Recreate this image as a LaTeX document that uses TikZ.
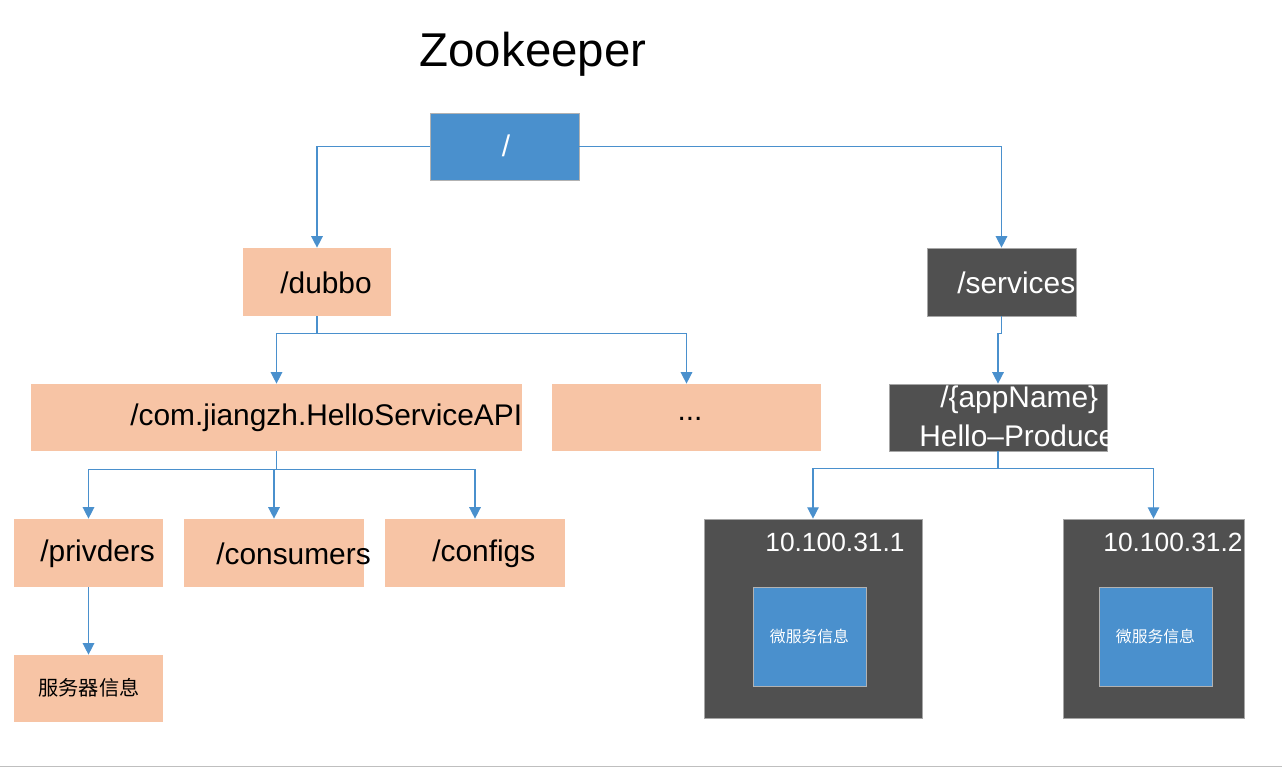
\documentclass[tikz,border=0pt]{standalone}
\usepackage{fontspec}
\setmainfont{Liberation Sans}
\newfontfamily\cjk{Noto Sans CJK SC}
\usepackage{xcolor}
\usetikzlibrary{positioning,arrows.meta}
\definecolor{zkblue}{RGB}{74,144,205}
\definecolor{zkpeach}{RGB}{247,196,165}
\definecolor{zkgray}{RGB}{80,80,80}

\begin{document}
\begin{tikzpicture}[x=0.02cm, y=-0.02cm,
  peach/.style={fill=zkpeach, inner sep=0pt},
  dark/.style={fill=zkgray, draw=gray!70, line width=0.4pt, inner sep=0pt},
  bluebox/.style={fill=zkblue, draw=gray!60, line width=0.4pt, inner sep=0pt},
  txt/.style={inner sep=0pt, font=\fontsize{17}{20}\selectfont},
  iptxt/.style={inner sep=0pt, anchor=west, text=white, font=\fontsize{15}{18}\selectfont},
  link/.style={draw=zkblue, line width=0.8pt, -{Triangle[width=6.5pt,length=6.5pt]}}]
  \useasboundingbox (0,0) rectangle (1282,768);

  % Title
  \node[inner sep=0pt, font=\fontsize{27}{32}\selectfont] (title) at (533,54) {Zookeeper};

  % Root and first level
  \node[bluebox, minimum width=2.98cm, minimum height=1.34cm] (root) at (504.5,146.5) {};
  \node[txt, text=white] (roott) at (506,146) {/};
  \node[peach, minimum width=2.96cm, minimum height=1.36cm] (dubbo) at (317,282) {};
  \node[txt, anchor=west] (dubbot) at (280,283) {/dubbo};
  \node[dark, minimum width=2.98cm, minimum height=1.36cm] (services) at (1001.5,282) {};
  \begin{scope}
    \clip (services.south west) rectangle (services.north east);
    \node[txt, anchor=west, text=white] (servicest) at (957,283) {/services};
  \end{scope}

  % Second level
  \node[peach, minimum width=9.82cm, minimum height=1.34cm] (api) at (276.5,417.5) {};
  \node[txt, anchor=west] (apit) at (130,418) {/com.jiangzh.HelloServiceAPI};
  \node[peach, minimum width=5.38cm, minimum height=1.34cm] (more) at (686.5,417.5) {};
  \node[txt] (moret) at (690,419) {...};
  \node[dark, minimum width=4.36cm, minimum height=1.34cm] (app) at (998,417.5) {};
  \begin{scope}
    \clip (app.south west) rectangle (app.north east);
    \node[txt, anchor=west, text=white] (appt) at (940,400) {/\{appName\}};
    \node[txt, anchor=west, text=white] (prodt) at (919,436) {Hello--Produce};
  \end{scope}

  % Third level (dubbo)
  \node[peach, minimum width=2.98cm, minimum height=1.36cm] (prov) at (88.5,553) {};
  \node[txt, anchor=west] (provt) at (40,554) {/privders};
  \node[peach, minimum width=3.6cm, minimum height=1.36cm] (cons) at (274,553) {};
  \node[txt, anchor=west] (const) at (216,554) {/consumers};
  \node[peach, minimum width=3.6cm, minimum height=1.36cm] (conf) at (475,553) {};
  \node[txt, anchor=west] (conft) at (432,554) {/configs};
  \node[peach, minimum width=2.98cm, minimum height=1.34cm] (info) at (88.5,688.5) {};
  \node[inner sep=0pt, font=\cjk\fontsize{11.5}{13}\selectfont] (infot) at (89,688) {服务器信息};

  % Servers (services)
  \node[dark, minimum width=4.36cm, minimum height=3.98cm] (srva) at (813,618.5) {};
  \node[iptxt] (srvat) at (765,542) {10.100.31.1};
  \node[bluebox, minimum width=2.26cm, minimum height=1.98cm] (msa) at (809.5,636.5) {};
  \node[inner sep=0pt, text=white, font=\cjk\fontsize{9}{11}\selectfont] (msat) at (msa) {微服务信息};
  \node[dark, minimum width=3.62cm, minimum height=3.98cm] (srvb) at (1153.5,618.5) {};
  \begin{scope}
    \clip (srvb.south west) rectangle (srvb.north east);
    \node[iptxt] (srvbt) at (1103,542) {10.100.31.2};
  \end{scope}
  \node[bluebox, minimum width=2.26cm, minimum height=1.98cm] (msb) at (1155.5,636.5) {};
  \node[inner sep=0pt, text=white, font=\cjk\fontsize{9}{11}\selectfont] (msbt) at (msb) {微服务信息};

  % Connectors
  \draw[link] (root.west) -| (dubbo.north);
  \draw[link] (root.east) -| (services.north);
  \draw[link] (dubbo.south) -- ++(0,17) -| (api.north);
  \draw[link] (dubbo.south) -- ++(0,17) -| (more.north);
  \draw[link] (services.south) -- ++(0,17) -| (app.north);
  \draw[link] (api.south) -- ++(0,18) -| (prov.north);
  \draw[link] (api.south) -- ++(0,18) -| (cons.north);
  \draw[link] (api.south) -- ++(0,18) -| (conf.north);
  \draw[link] (prov.south) -- (info.north);
  \draw[link] (app.south) -- ++(0,17) -| (srva.north);
  \draw[link] (app.south) -- ++(0,17) -| (srvb.north);

  % Bottom rule
  \draw[gray!50, line width=0.7pt] (0,766.5) -- (1282,766.5);
\end{tikzpicture}
\end{document}
